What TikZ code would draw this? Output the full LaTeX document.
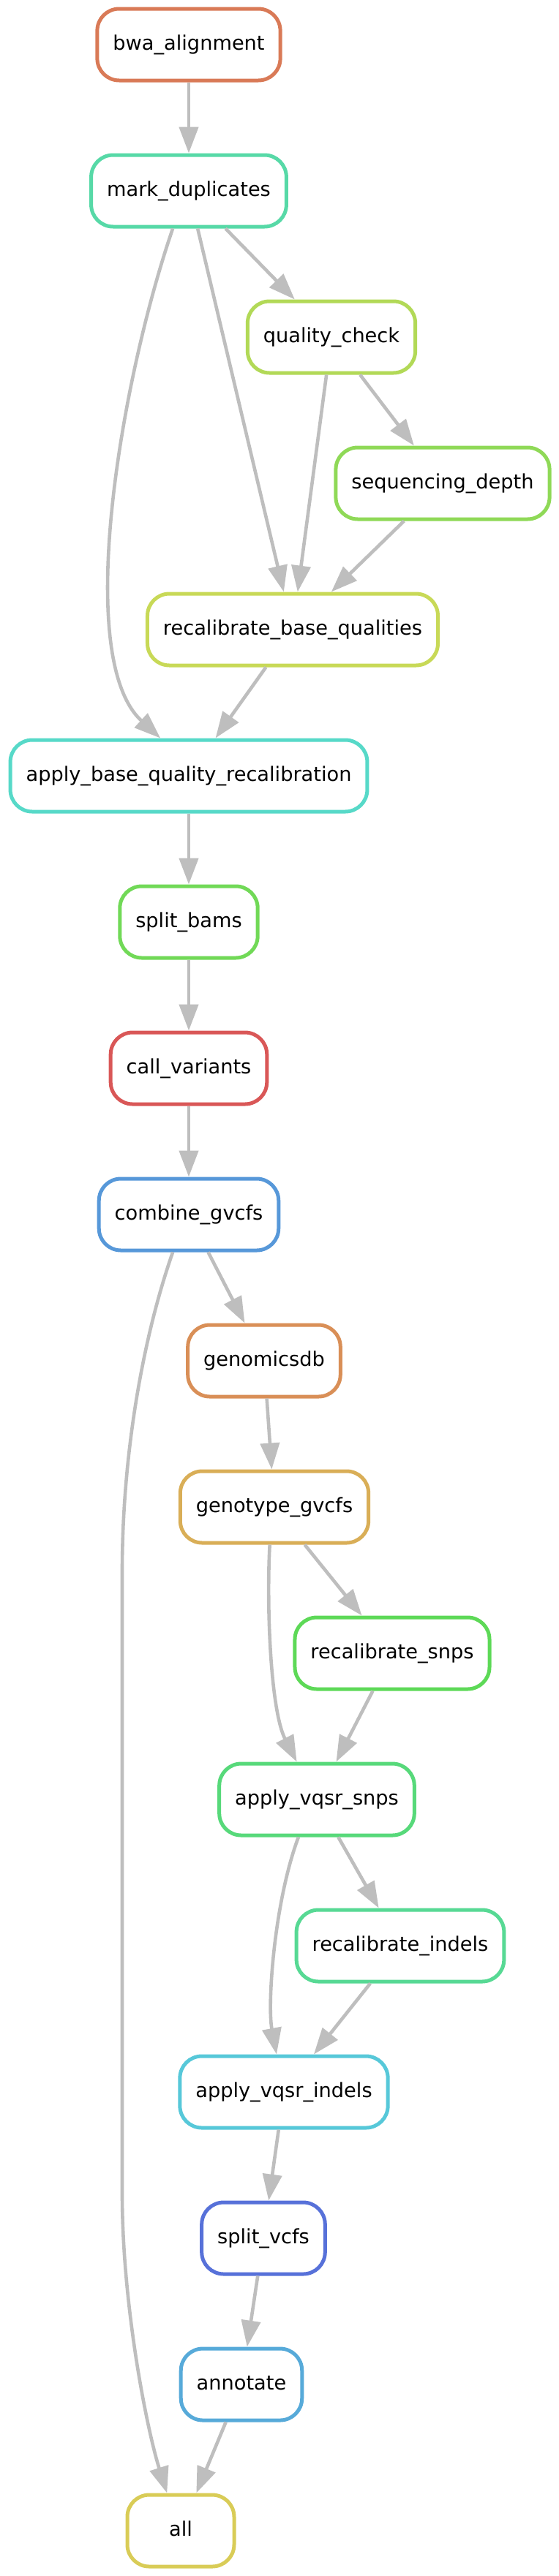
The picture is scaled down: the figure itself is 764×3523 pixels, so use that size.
\documentclass[tikz,border=0pt]{standalone}
\usepackage{fontspec}
\setmainfont{DejaVu Sans}
\usetikzlibrary{arrows.meta}

\definecolor{cbwa}{RGB}{217,122,87}
\definecolor{cmark}{RGB}{87,217,167}
\definecolor{cqc}{RGB}{178,217,87}
\definecolor{cdepth}{RGB}{143,217,87}
\definecolor{crecalbq}{RGB}{200,217,87}
\definecolor{capplybq}{RGB}{87,217,200}
\definecolor{csplitbam}{RGB}{113,217,87}
\definecolor{ccall}{RGB}{217,87,87}
\definecolor{ccombine}{RGB}{87,152,217}
\definecolor{cgdb}{RGB}{217,143,87}
\definecolor{cgeno}{RGB}{217,174,87}
\definecolor{crsnps}{RGB}{93,217,87}
\definecolor{cvsnps}{RGB}{87,217,122}
\definecolor{cridels}{RGB}{87,217,148}
\definecolor{cvindels}{RGB}{87,200,217}
\definecolor{csplitvcf}{RGB}{87,113,217}
\definecolor{cannot}{RGB}{87,170,217}
\definecolor{call}{RGB}{217,204,87}
\definecolor{linkgrey}{RGB}{190,190,190}

\tikzset{
  job/.style={draw=#1, line width=2.5pt, rounded corners=15pt, fill=white,
    minimum width=73pt, minimum height=49pt, inner xsep=10.75pt,
    text height=10.3pt, text depth=2.6pt,
    font=\fontsize{13.6pt}{16pt}\selectfont},
  link/.style={draw=linkgrey, line width=2.3pt,
    -{Triangle[length=18pt,width=13pt]}}
}

\begin{document}
\begin{tikzpicture}[x=0.5pt,y=-0.5pt]
  \useasboundingbox (0,0) rectangle (764,3523);
  % rules
  \node[job=cbwa] (bwa) at (258,61) {bwa\_alignment};
  \node[job=cmark] (mark) at (258,261) {mark\_duplicates};
  \node[job=cqc] (qc) at (453,461) {quality\_check};
  \node[job=cdepth] (depth) at (605,661) {sequencing\_depth};
  \node[job=crecalbq] (recalbq) at (400,861) {recalibrate\_base\_qualities};
  \node[job=capplybq] (applybq) at (258,1061) {apply\_base\_quality\_recalibration};
  \node[job=csplitbam] (splitbam) at (258,1261) {split\_bams};
  \node[job=ccall] (callvar) at (258,1461) {call\_variants};
  \node[job=ccombine] (combine) at (258,1661) {combine\_gvcfs};
  \node[job=cgdb] (gdb) at (361,1861) {genomicsdb};
  \node[job=cgeno] (geno) at (375,2061) {genotype\_gvcfs};
  \node[job=crsnps] (rsnps) at (536,2261) {recalibrate\_snps};
  \node[job=cvsnps] (vsnps) at (433,2461) {apply\_vqsr\_snps};
  \node[job=cridels] (ridels) at (547,2661) {recalibrate\_indels};
  \node[job=cvindels] (vindels) at (388,2861) {apply\_vqsr\_indels};
  \node[job=csplitvcf] (splitvcf) at (360,3061) {split\_vcfs};
  \node[job=cannot] (annot) at (330,3261) {annotate};
  \node[job=call] (all) at (247,3461) {all};
  \coordinate (bendtop) at (167,2150);
  \coordinate (bendbot) at (167,3000);
  % dependencies
  \draw[link] (bwa) -- (mark);
  \draw[link] (mark) -- (qc);
  \draw[link] (mark) -- (recalbq);
  \draw[link] (mark.247) .. controls (165,520) and (100,900) .. (applybq.127);
  \draw[link] (qc) -- (recalbq);
  \draw[link] (qc) -- (depth);
  \draw[link] (depth) -- (recalbq);
  \draw[link] (recalbq) -- (applybq);
  \draw[link] (applybq) -- (splitbam);
  \draw[link] (splitbam) -- (callvar);
  \draw[link] (callvar) -- (combine);
  \draw[link] (combine) -- (gdb);
  \draw[link] (combine.247) .. controls (195,1830) and (167,1990) .. (bendtop)
    -- (bendbot) .. controls (167,3150) and (200,3320) .. (all.110);
  \draw[link] (gdb) -- (geno);
  \draw[link] (geno) -- (rsnps);
  \draw[link] (geno.263) .. controls (364,2200) and (370,2340) .. (vsnps.118);
  \draw[link] (rsnps) -- (vsnps);
  \draw[link] (vsnps) -- (ridels);
  \draw[link] (vsnps.244) .. controls (375,2600) and (365,2740) .. (vindels.101);
  \draw[link] (ridels) -- (vindels);
  \draw[link] (vindels) -- (splitvcf);
  \draw[link] (splitvcf) -- (annot);
  \draw[link] (annot) -- (all);
\end{tikzpicture}
\end{document}
